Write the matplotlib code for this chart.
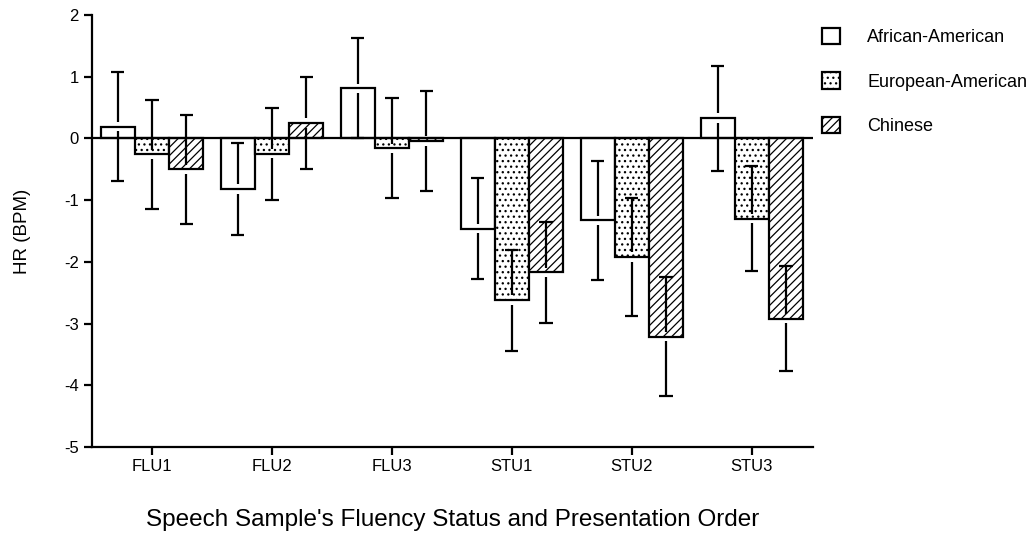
"""Heart-rate change by listener group and speech sample."""
import numpy as np
import matplotlib.pyplot as plt

plt.rcParams['font.family'] = ['Liberation Sans', 'DejaVu Sans']
plt.rcParams['hatch.linewidth'] = 0.9
plt.rcParams['axes.unicode_minus'] = False

samples = ['FLU1', 'FLU2', 'FLU3', 'STU1', 'STU2', 'STU3']
groups = ['African-American', 'European-American', 'Chinese']

# mean HR change (BPM) per group, per sample
african_american = [0.19, -0.82, 0.81, -1.46, -1.33, 0.33]
european_american = [-0.26, -0.25, -0.16, -2.62, -1.92, -1.30]
chinese = [-0.50, 0.25, -0.04, -2.17, -3.21, -2.92]

# error bar half-widths (SE), same for the three groups of a sample
errors = [0.88, 0.74, 0.81, 0.82, 0.96, 0.85]


def draw_errorbars(ax, pos, vals, errs, gap=0.075, cap=0.055):
    """Prism-style error bars: a small gap is left around the mean."""
    vals = np.asarray(vals)
    errs = np.asarray(errs)
    ax.vlines(pos, vals + gap, vals + errs, color='black', lw=1.6, zorder=3)
    ax.vlines(pos, vals - errs, vals - gap, color='black', lw=1.6, zorder=3)
    ax.hlines(vals + errs, pos - cap, pos + cap, color='black', lw=1.6, zorder=3)
    ax.hlines(vals - errs, pos - cap, pos + cap, color='black', lw=1.6, zorder=3)


def main():
    fig = plt.figure(figsize=(10.31, 5.37), dpi=100)
    ax = fig.add_axes([0.0892, 0.1676, 0.6994, 0.8045])

    x = np.arange(len(samples))
    width = 0.285
    hatches = ['', '...', '////']
    handles = []
    for i, (name, vals) in enumerate(zip(groups, [african_american, european_american, chinese])):
        pos = x + (i - 1) * width
        bars = ax.bar(pos, vals, width, color='white', edgecolor='black',
                      linewidth=1.6, hatch=hatches[i], label=name, zorder=2)
        draw_errorbars(ax, pos, vals, errors)
        handles.append(bars)

    ax.axhline(0, color='black', linewidth=1.6, zorder=4)
    ax.set_xlim(-0.5, 5.51)
    ax.set_ylim(-5, 2)
    ax.set_yticks(range(-5, 3))
    ax.set_xticks(x)
    ax.set_xticklabels(samples)
    ax.tick_params(axis='both', direction='out', length=6, width=1.6, labelsize=12)
    ax.tick_params(axis='x', pad=3)
    for side in ['top', 'right']:
        ax.spines[side].set_visible(False)
    for side in ['left', 'bottom']:
        ax.spines[side].set_linewidth(1.6)

    ax.set_ylabel('HR (BPM)', fontsize=13.5, labelpad=24)
    ax.set_xlabel("Speech Sample's Fluency Status and Presentation Order",
                  fontsize=17.5, labelpad=25)

    ax.legend(handles=handles, labels=groups, loc='upper left',
              bbox_to_anchor=(822 / 1031, 1 - 28 / 537), bbox_transform=fig.transFigure,
              frameon=False, fontsize=13, handlelength=1.0, handleheight=1.0,
              labelspacing=1.45, handletextpad=1.5, borderpad=0, borderaxespad=0)

    fig.savefig('out.png', dpi=100)


if __name__ == '__main__':
    main()
